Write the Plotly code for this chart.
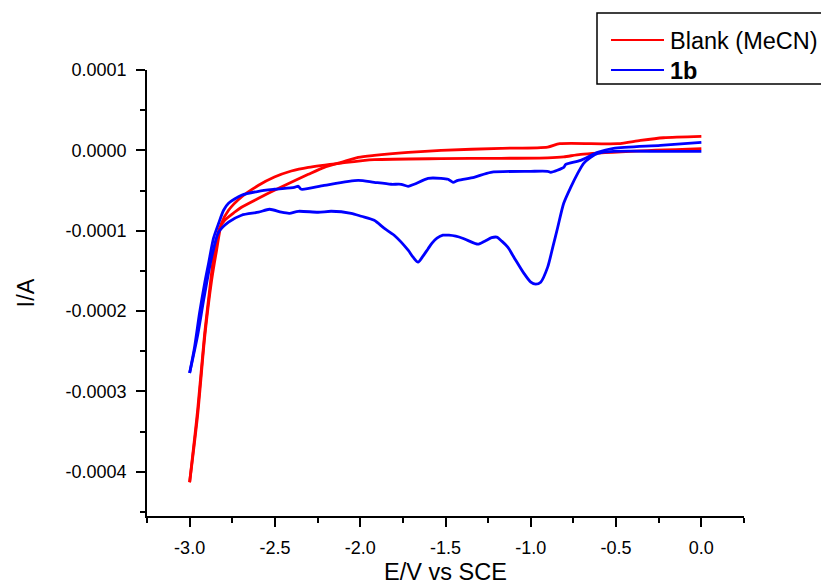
import plotly.graph_objects as go

# ---- data ----
# Blank (MeCN): forward scan 0 -> -3 V
blank_fwd_E = [0.0, -0.415, -0.708, -0.807, -0.901, -1.175, -1.526, -1.918, -2.111, -2.304, -2.404, -2.503,
               -2.596, -2.696, -2.772, -2.813, -2.842, -2.871, -2.912, -2.953, -3.0]
blank_fwd_I = [2.1e-6, -1.2e-6, -5.0e-6, -8.1e-6, -9.3e-6, -9.9e-6, -1.03e-5, -1.16e-5, -1.58e-5, -2.11e-5,
               -2.57e-5, -3.32e-5, -4.35e-5, -5.8e-5, -7.45e-5, -9.07e-5, -1.242e-4, -1.615e-4, -2.33e-4,
               -3.29e-4, -4.13e-4]
# Blank (MeCN): reverse scan -3 -> 0 V
blank_rev_E = [-3.0, -2.953, -2.912, -2.883, -2.854, -2.825, -2.795, -2.737, -2.696, -2.596, -2.503, -2.404,
               -2.304, -2.211, -2.111, -2.012, -1.918, -1.719, -1.526, -1.175, -0.901, -0.830, -0.491, -0.357,
               -0.222, 0.0]
blank_rev_I = [-4.13e-4, -3.23e-4, -2.28e-4, -1.74e-4, -1.24e-4, -9.7e-5, -8.7e-5, -7.7e-5, -7.08e-5,
               -5.96e-5, -4.97e-5, -3.98e-5, -2.98e-5, -2.11e-5, -1.49e-5, -8.7e-6, -6.2e-6, -2.5e-6, 0.0,
               2.5e-6, 4.1e-6, 8.3e-6, 8.3e-6, 1.24e-5, 1.57e-5, 1.74e-5]

# 1b: forward scan 0 -> -3 V
b1_fwd_E = [0.0, -0.222, -0.515, -0.608, -0.649, -0.690, -0.725, -0.766, -0.807, -0.842, -0.871, -0.901,
            -0.942, -0.971, -1.000, -1.041, -1.099, -1.135, -1.170, -1.200, -1.230, -1.270, -1.310, -1.360,
            -1.400, -1.440, -1.480, -1.515, -1.550, -1.579, -1.602, -1.632, -1.661, -1.690, -1.719, -1.801,
            -1.860, -1.918, -1.994, -2.053, -2.170, -2.246, -2.363, -2.415, -2.462, -2.532, -2.596, -2.696,
            -2.772, -2.830, -2.871, -2.918, -2.953, -3.0]
b1_fwd_I = [-1.2e-6, -1.2e-6, -1.2e-6, -3.7e-6, -8.7e-6, -1.61e-5, -2.86e-5, -4.6e-5, -6.58e-5, -9.57e-5,
            -1.205e-4, -1.453e-4, -1.64e-4, -1.665e-4, -1.64e-4, -1.528e-4, -1.329e-4, -1.205e-4, -1.13e-4,
            -1.08e-4, -1.087e-4, -1.13e-4, -1.168e-4, -1.13e-4, -1.093e-4, -1.068e-4, -1.056e-4, -1.056e-4,
            -1.093e-4, -1.155e-4, -1.224e-4, -1.317e-4, -1.391e-4, -1.329e-4, -1.242e-4, -1.056e-4,
            -9.69e-5, -8.7e-5, -8.2e-5, -7.83e-5, -7.58e-5, -7.7e-5, -7.58e-5, -7.83e-5, -7.7e-5, -7.33e-5,
            -7.7e-5, -8.07e-5, -8.94e-5, -1.019e-4, -1.329e-4, -1.863e-4, -2.30e-4, -2.77e-4]
# 1b: reverse scan -3 -> 0 V
b1_rev_E = [-3.0, -2.971, -2.942, -2.912, -2.889, -2.860, -2.830, -2.801, -2.772, -2.696, -2.596, -2.503,
            -2.386, -2.363, -2.345, -2.211, -2.012, -1.918, -1.819, -1.760, -1.719, -1.684, -1.602, -1.526,
            -1.485, -1.456, -1.427, -1.333, -1.234, -1.000, -0.901, -0.883, -0.807, -0.795, -0.708, -0.608,
            -0.515, -0.240, 0.0]
b1_rev_I = [-2.77e-4, -2.447e-4, -2.025e-4, -1.652e-4, -1.404e-4, -1.093e-4, -9.07e-5, -7.45e-5, -6.58e-5,
            -5.59e-5, -5.09e-5, -4.84e-5, -4.6e-5, -4.47e-5, -4.84e-5, -4.35e-5, -3.73e-5, -3.98e-5,
            -4.22e-5, -4.22e-5, -4.47e-5, -4.22e-5, -3.48e-5, -3.48e-5, -3.6e-5, -3.98e-5, -3.73e-5,
            -3.35e-5, -2.73e-5, -2.61e-5, -2.61e-5, -2.73e-5, -2.11e-5, -1.74e-5, -1.24e-5, -2.5e-6, 2.5e-6,
            6.2e-6, 9.9e-6]

series_names = ["Blank (MeCN)", "1b"]
series_colors = ["#FF0000", "#0000FF"]

x_tickvals = [-3.0, -2.5, -2.0, -1.5, -1.0, -0.5, 0.0]
x_ticktext = ["-3.0", "-2.5", "-2.0", "-1.5", "-1.0", "-0.5", "0.0"]
x_minor = [-3.25, -2.75, -2.25, -1.75, -1.25, -0.75, -0.25, 0.25]
y_tickvals = [1e-4, 0.0, -1e-4, -2e-4, -3e-4, -4e-4]
y_ticktext = ["0.0001", "0.0000", "-0.0001", "-0.0002", "-0.0003", "-0.0004"]
y_minor = [5e-5, -5e-5, -1.5e-4, -2.5e-4, -3.5e-4, -4.5e-4]

FONT = "Arial, 'Liberation Sans', sans-serif"

fig = go.Figure()
for E_f, I_f, E_r, I_r, nm, col in [
    (blank_fwd_E, blank_fwd_I, blank_rev_E, blank_rev_I, series_names[0], series_colors[0]),
    (b1_fwd_E, b1_fwd_I, b1_rev_E, b1_rev_I, series_names[1], series_colors[1]),
]:
    fig.add_trace(go.Scatter(x=E_f, y=I_f, mode="lines", name=nm, legendgroup=nm,
                             line=dict(color=col, width=2.8, shape="spline", smoothing=0.7)))
    fig.add_trace(go.Scatter(x=E_r, y=I_r, mode="lines", name=nm, legendgroup=nm, showlegend=False,
                             line=dict(color=col, width=2.8, shape="spline", smoothing=0.7)))

# the page's body margin is removed (post_script below), so the figure fills the window
W, H = 821, 585
L, R, T, B = 147, 744, 70, 516   # plot area in window pixels

def px(x):
    return (x - L) / (R - L)

def py(y):
    return (B - y) / (B - T)

shapes = [dict(type="rect", xref="paper", yref="paper", x0=px(597), x1=px(860), y0=py(84), y1=py(13),
               line=dict(color="black", width=1.5), fillcolor="white", layer="above")]
annotations = []
for i, (nm, col) in enumerate(zip(series_names, series_colors)):
    yy = [40, 70][i]
    shapes.append(dict(type="line", xref="paper", yref="paper", x0=px(611), x1=px(664), y0=py(yy), y1=py(yy),
                       line=dict(color=col, width=2), layer="above"))
    annotations.append(dict(xref="paper", yref="paper", x=px(668), y=py(yy + 1), xanchor="left",
                            yanchor="middle", showarrow=False,
                            text=("<b>%s</b>" % nm) if i == 1 else nm,
                            font=dict(family=FONT, size=23.5, color="black")))

fig.update_layout(
    width=W, height=H,
    margin=dict(l=L, r=W - R, t=T, b=H - B),
    plot_bgcolor="white", paper_bgcolor="white",
    showlegend=False,
    font=dict(family=FONT, color="black"),
    shapes=shapes, annotations=annotations,
)
fig.update_xaxes(
    range=[-3.25, 0.25], showgrid=False, zeroline=False, automargin=False,
    showline=True, linecolor="black", linewidth=1.5,
    tickmode="array", tickvals=x_tickvals, ticktext=x_ticktext,
    ticks="outside", ticklen=9, tickwidth=1.5, tickcolor="black",
    tickfont=dict(family=FONT, size=18), ticklabelstandoff=6,
    minor=dict(tickmode="array", tickvals=x_minor, ticks="outside", ticklen=5, tickwidth=1.5, tickcolor="black"),
    title=dict(text="E/V vs SCE", font=dict(family=FONT, size=23.5), standoff=7),
)
fig.update_yaxes(
    range=[-0.000455, 0.0001], showgrid=False, zeroline=False, automargin=False,
    showline=True, linecolor="black", linewidth=1.5,
    tickmode="array", tickvals=y_tickvals, ticktext=y_ticktext,
    ticks="outside", ticklen=9, tickwidth=1.5, tickcolor="black",
    tickfont=dict(family=FONT, size=18), ticklabelstandoff=6,
    minor=dict(tickmode="array", tickvals=y_minor, ticks="outside", ticklen=5, tickwidth=1.5, tickcolor="black"),
    title=dict(text="I/A", font=dict(family=FONT, size=23.5), standoff=24),
)

fig.write_html("out.html",
               config={"displayModeBar": False},
               post_script="document.body.style.margin='0';document.body.style.overflow='hidden';")
